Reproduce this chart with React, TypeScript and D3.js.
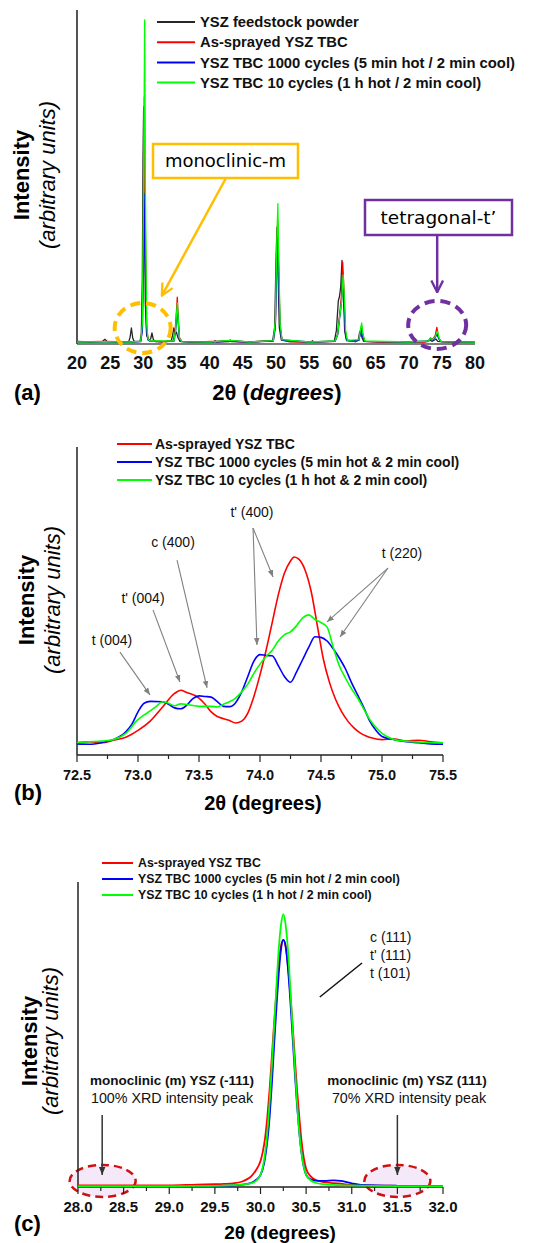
import React from "react";
import * as d3 from "d3";

type Pt = [number, number];

const SANS = "'Liberation Sans', Arial, Helvetica, sans-serif";
const HAND = "'DejaVu Sans', sans-serif";

const RED = "#ff0000";
const BLUE = "#0000ff";
const GREEN = "#00ff00";
const BLACK = "#262626";
const ORANGE = "#ffbf00";
const PURPLE = "#7030a0";
const GREY = "#808080";

// ---------- (a) survey scan, 20–80° ----------
const scanTicks = [20, 25, 30, 35, 40, 45, 50, 55, 60, 65, 70, 75, 80];
const scanLegend = [
  "YSZ feedstock powder",
  "As-sprayed YSZ TBC",
  "YSZ TBC 1000 cycles (5 min hot / 2 min cool)",
  "YSZ TBC 10 cycles (1 h hot / 2 min cool)",
];
const feedstockScan: Pt[] = [
  [20, 0.8], [22, 0.6], [23.8, 0.7], [24.2, 1.4], [24.6, 0.7], [26, 0.6], [27.8, 0.7], [28.0, 2.0],
  [28.2, 4.8], [28.4, 1.8], [28.6, 0.8], [29.5, 0.8], [29.7, 3], [29.85, 20], [29.95, 55], [30.05, 71],
  [30.15, 48], [30.3, 12], [30.5, 2.5], [30.8, 1.2], [31.1, 1.5], [31.3, 3.3], [31.5, 1.4], [31.8, 0.7],
  [33, 0.6], [34.2, 0.9], [34.4, 2.5], [34.6, 4.8], [34.8, 3.0], [35.0, 3.5], [35.2, 2], [35.5, 0.8],
  [37, 0.6], [40.6, 0.6], [40.8, 1], [41, 0.6], [42.9, 0.7], [43.1, 1.2], [43.3, 0.7], [46, 0.6],
  [49.5, 1], [49.8, 5], [50.0, 25], [50.15, 35], [50.3, 22], [50.5, 5], [50.8, 1.2], [52, 0.7],
  [55.3, 0.6], [55.5, 1], [55.7, 0.6], [58.8, 0.9], [59.1, 4], [59.4, 13], [59.55, 14], [59.75, 17],
  [59.95, 25], [60.15, 16], [60.35, 4], [60.6, 1.2], [62, 0.7], [62.4, 1.2], [62.6, 3.5], [62.75, 4],
  [62.95, 2], [63.2, 0.8], [66, 0.6], [70, 0.6], [72.8, 0.7], [73.2, 1.2], [73.5, 0.8], [73.9, 1.2],
  [74.1, 1.5], [74.4, 0.8], [76, 0.6], [80, 0.6],
];
const asSprayedScan: Pt[] = [
  [20, 0.6], [24, 0.8], [28, 0.6], [29.6, 0.8], [29.8, 4], [30.0, 30], [30.15, 74], [30.3, 35],
  [30.5, 5], [30.7, 1.5], [31, 0.9], [33, 0.7], [34.5, 1], [34.8, 4], [35.0, 10], [35.12, 14],
  [35.25, 8], [35.45, 1.8], [35.8, 0.8], [38, 0.6], [43, 0.9], [46, 0.6], [49.6, 1], [49.9, 6],
  [50.1, 25], [50.25, 37], [50.4, 24], [50.6, 6], [50.9, 1.3], [52, 0.7], [55, 0.6], [58.9, 0.8],
  [59.3, 3], [59.6, 9], [59.85, 14], [60.05, 24.5], [60.25, 16], [60.45, 4], [60.7, 1], [62, 0.7],
  [62.5, 1.2], [62.75, 4], [62.9, 5.5], [63.1, 2.5], [63.4, 0.8], [66, 0.6], [72.5, 0.6], [73, 1],
  [73.3, 1.8], [73.6, 1.4], [74.0, 2.5], [74.25, 5], [74.5, 2], [74.9, 0.7], [77, 0.6], [80, 0.6],
];
const cycles1000Scan: Pt[] = [
  [20, 0.6], [24, 0.7], [28, 0.6], [29.6, 0.7], [29.85, 4], [30.05, 25], [30.18, 45], [30.32, 22],
  [30.5, 4], [30.7, 1.2], [31, 0.8], [34.6, 0.8], [34.85, 3.5], [35.02, 8], [35.12, 11], [35.25, 6.5],
  [35.45, 1.5], [35.8, 0.7], [40, 0.6], [43.1, 0.9], [46, 0.6], [49.6, 0.9], [49.9, 5], [50.1, 22],
  [50.25, 33], [50.4, 20], [50.6, 5], [50.9, 1.2], [55, 0.6], [58.9, 0.8], [59.3, 2.8], [59.6, 8],
  [59.85, 12], [60.08, 19], [60.25, 13], [60.45, 3.5], [60.7, 1], [62.5, 1.1], [62.75, 3.5], [62.9, 5],
  [63.1, 2.2], [63.4, 0.8], [70, 0.6], [73, 0.9], [73.3, 1.5], [73.6, 1.2], [74.0, 2], [74.3, 3],
  [74.55, 1.5], [74.9, 0.7], [80, 0.6],
];
const cycles10Scan: Pt[] = [
  [20, 0.6], [24, 0.7], [28, 0.6], [29.6, 0.8], [29.85, 6], [30.05, 50], [30.2, 97], [30.32, 45],
  [30.5, 6], [30.7, 1.5], [31, 0.9], [34.6, 0.9], [34.85, 4], [35.02, 9.5], [35.14, 12.3], [35.27, 7],
  [35.45, 1.7], [35.8, 0.7], [40, 0.6], [43.1, 1.1], [46, 0.6], [49.6, 1], [49.9, 7], [50.12, 30],
  [50.28, 42], [50.42, 25], [50.62, 6], [50.9, 1.3], [55, 0.6], [58.9, 0.9], [59.3, 3], [59.65, 9],
  [59.9, 13], [60.12, 20.7], [60.3, 14], [60.5, 4], [60.75, 1.1], [62.5, 1.3], [62.75, 4.5], [62.92, 6.3],
  [63.1, 3], [63.4, 0.9], [70, 0.6], [73, 0.9], [73.3, 1.6], [73.6, 1.3], [74.0, 2.2], [74.35, 3.8],
  [74.6, 1.6], [74.9, 0.7], [80, 0.6],
];

// ---------- (b) 72.5–75.5° window ----------
const windowTicks = [72.5, 73.0, 73.5, 74.0, 74.5, 75.0, 75.5];
const windowLegend = [
  "As-sprayed YSZ TBC",
  "YSZ TBC 1000 cycles (5 min hot & 2 min cool)",
  "YSZ TBC 10 cycles (1 h hot & 2 min cool)",
];
const asSprayedWindow: Pt[] = [
  [72.5, 4], [72.6, 4.3], [72.7, 4], [72.8, 4.8], [72.9, 5.8], [73.0, 8], [73.1, 11], [73.2, 15.5],
  [73.3, 20], [73.35, 21], [73.4, 20.3], [73.5, 18.5], [73.55, 16.5], [73.6, 14], [73.65, 12.5],
  [73.7, 11.8], [73.75, 11.2], [73.8, 10.4], [73.85, 11], [73.9, 13.6], [73.95, 19], [74.0, 26],
  [74.05, 34], [74.1, 43], [74.15, 52], [74.2, 59], [74.25, 63], [74.28, 64.3], [74.32, 63.5],
  [74.37, 60], [74.42, 53], [74.47, 42], [74.52, 31], [74.57, 23.5], [74.62, 18], [74.67, 14],
  [74.72, 11], [74.77, 8.8], [74.82, 7.2], [74.87, 6.2], [74.92, 5.5], [75.0, 5], [75.1, 5.2],
  [75.2, 4.6], [75.3, 4.8], [75.4, 4.3], [75.5, 4],
];
const cycles1000Window: Pt[] = [
  [72.5, 3.6], [72.6, 3.5], [72.7, 4], [72.8, 5], [72.9, 7.5], [72.95, 10], [73.0, 14], [73.05, 16.8],
  [73.1, 17.4], [73.2, 17.3], [73.25, 16.5], [73.3, 15.3], [73.35, 15], [73.4, 16.2], [73.45, 18.3],
  [73.5, 19.2], [73.55, 19], [73.6, 18.8], [73.65, 17.3], [73.7, 15.8], [73.75, 15.7], [73.8, 17],
  [73.85, 20.5], [73.9, 25.5], [73.95, 30.5], [74.0, 32.6], [74.05, 32.3], [74.1, 32.2], [74.15, 29],
  [74.2, 25.5], [74.25, 23.6], [74.3, 27], [74.35, 31], [74.4, 35], [74.45, 38.4], [74.5, 38.2],
  [74.55, 37], [74.6, 34.5], [74.65, 31.5], [74.7, 28], [74.75, 23.5], [74.8, 19.5], [74.85, 15.5],
  [74.9, 11], [74.95, 8], [75.0, 6], [75.1, 5], [75.2, 4.3], [75.3, 4], [75.4, 3.6], [75.5, 3.5],
];
const cycles10Window: Pt[] = [
  [72.5, 4], [72.6, 4.3], [72.7, 4.5], [72.8, 5], [72.9, 7], [73.0, 11.5], [73.05, 13], [73.1, 14.3],
  [73.15, 15.8], [73.2, 17.3], [73.25, 16.8], [73.3, 16], [73.35, 16.6], [73.4, 16.4], [73.5, 15.8],
  [73.6, 15.8], [73.65, 15.6], [73.7, 16.5], [73.75, 17.3], [73.8, 18.5], [73.85, 20.5], [73.9, 23],
  [73.95, 26.5], [74.0, 29.5], [74.05, 32], [74.1, 34], [74.15, 37], [74.2, 39], [74.25, 40], [74.3, 42],
  [74.35, 44.5], [74.4, 45.5], [74.45, 44], [74.5, 43], [74.55, 41.5], [74.6, 35], [74.65, 29],
  [74.7, 25], [74.75, 21.5], [74.8, 18.5], [74.85, 15], [74.9, 11.5], [74.95, 9], [75.0, 7], [75.1, 5],
  [75.2, 4.5], [75.3, 4.2], [75.4, 4], [75.5, 4],
];

// ---------- (c) 28–32° window ----------
const mainPeakTicks = [28.0, 28.5, 29.0, 29.5, 30.0, 30.5, 31.0, 31.5, 32.0];
const mainPeakLegend = [
  "As-sprayed YSZ TBC",
  "YSZ TBC 1000 cycles (5 min hot / 2 min cool)",
  "YSZ TBC 10 cycles (1 h hot / 2 min cool)",
];
const asSprayedMain: Pt[] = [
  [28.0, 0.5], [29.0, 0.5], [29.3, 0.8], [29.5, 0.9], [29.6, 1.0], [29.7, 1.2], [29.8, 1.8], [29.85, 2.5],
  [29.9, 3.6], [29.95, 5.5], [30.0, 8.5], [30.025, 11.5], [30.05, 16], [30.075, 23], [30.1, 32],
  [30.125, 43], [30.15, 54], [30.175, 64], [30.2, 73], [30.225, 79], [30.25, 81], [30.275, 79],
  [30.3, 73], [30.325, 64], [30.35, 54], [30.375, 43], [30.4, 32], [30.425, 23], [30.45, 15],
  [30.475, 9.5], [30.5, 6], [30.55, 3.5], [30.6, 2.4], [30.7, 1.6], [30.8, 1.3], [30.9, 1.0],
  [31.0, 0.7], [31.5, 0.4], [32.0, 0.3],
];
const cycles1000Main: Pt[] = [
  [28.0, 0.3], [29.0, 0.3], [29.5, 0.3], [29.7, 0.5], [29.8, 0.8], [29.9, 1.4], [29.95, 2.3], [30.0, 4],
  [30.025, 6], [30.05, 9.5], [30.075, 15], [30.1, 23], [30.125, 34], [30.15, 47], [30.175, 59],
  [30.2, 70], [30.225, 78], [30.25, 81], [30.275, 79], [30.3, 72], [30.325, 62], [30.35, 50],
  [30.375, 38], [30.4, 27], [30.425, 18], [30.45, 11], [30.475, 6.5], [30.5, 4], [30.55, 2.5],
  [30.6, 2.1], [30.7, 2.0], [30.8, 2.2], [30.9, 1.9], [31.0, 1.2], [31.1, 0.7], [31.5, 0.4], [32.0, 0.3],
];
const cycles10Main: Pt[] = [
  [28.0, 0.3], [28.5, 0.3], [29.0, 0.3], [29.5, 0.4], [29.7, 0.6], [29.8, 0.8], [29.9, 1.3], [29.95, 2.0],
  [30.0, 4.0], [30.025, 6.5], [30.05, 11], [30.075, 18], [30.1, 28], [30.125, 40], [30.15, 53],
  [30.175, 66], [30.2, 78], [30.225, 86], [30.25, 89.5], [30.275, 86], [30.3, 78], [30.325, 66],
  [30.35, 53], [30.375, 40], [30.4, 28], [30.425, 18], [30.45, 11], [30.475, 6.5], [30.5, 4],
  [30.55, 2.2], [30.6, 1.4], [30.7, 0.9], [30.8, 0.7], [31.0, 0.5], [31.5, 0.3], [32.0, 0.3],
];

type Scale = d3.ScaleLinear<number, number>;

function Trace({ data, x, y, color, width = 1.6, smooth = false }: {
  data: Pt[]; x: Scale; y: Scale; color: string; width?: number; smooth?: boolean;
}) {
  const gen = d3
    .line<Pt>()
    .x((d) => x(d[0]))
    .y((d) => y(d[1]))
    .curve(smooth ? d3.curveMonotoneX : d3.curveLinear);
  return <path d={gen(data) ?? ""} fill="none" stroke={color} strokeWidth={width} strokeLinejoin="round" />;
}

function YTitle({ x1, x2, cy }: { x1: number; x2: number; cy: number }) {
  return (
    <g fontFamily={SANS} fontSize={22} fill="#000" textAnchor="middle">
      <text transform={`translate(${x1},${cy}) rotate(-90)`} fontWeight="bold">Intensity</text>
      <text transform={`translate(${x2},${cy}) rotate(-90)`} fontStyle="italic">(arbitrary units)</text>
    </g>
  );
}

function Legend({ items, colors, x0, x1, tx, y0, dy, size }: {
  items: string[]; colors: string[]; x0: number; x1: number; tx: number; y0: number; dy: number; size: number;
}) {
  return (
    <g fontFamily={SANS} fontWeight="bold" fontSize={size} fill="#111">
      {items.map((t, i) => (
        <g key={t}>
          <line x1={x0} x2={x1} y1={y0 + i * dy} y2={y0 + i * dy} stroke={colors[i]} strokeWidth={2} />
          <text x={tx} y={y0 + i * dy} dy="0.35em">{t}</text>
        </g>
      ))}
    </g>
  );
}

function BottomAxis({ x, y0, ticks, minor, size, fmt }: {
  x: Scale; y0: number; ticks: number[]; minor: number[]; size: number; fmt: (v: number) => string;
}) {
  const [r0, r1] = x.range();
  return (
    <g>
      <line x1={r0} x2={r1} y1={y0} y2={y0} stroke="#222" strokeWidth={1.5} />
      {minor.map((v) => (
        <line key={`m${v}`} x1={x(v)} x2={x(v)} y1={y0} y2={y0 + 4} stroke="#222" strokeWidth={1.2} />
      ))}
      {ticks.map((v) => (
        <line key={`t${v}`} x1={x(v)} x2={x(v)} y1={y0} y2={y0 + 7} stroke="#222" strokeWidth={1.2} />
      ))}
      <g fontFamily={SANS} fontWeight="bold" fontSize={size} textAnchor="middle" fill="#111">
        {ticks.map((v) => (
          <text key={`l${v}`} x={x(v)} y={y0 + 20} dy="0.35em">{fmt(v)}</text>
        ))}
      </g>
    </g>
  );
}

export default function App() {
  // (a)
  const xA = d3.scaleLinear().domain([20, 80]).range([77, 475]);
  const yA = d3.scaleLinear().domain([0, 100]).range([344, 10]);
  // (b)
  const xB = d3.scaleLinear().domain([72.5, 75.5]).range([77, 443]);
  const yB = d3.scaleLinear().domain([0, 100]).range([755, 447]);
  // (c)
  const xC = d3.scaleLinear().domain([28, 32]).range([78, 443]);
  const yC = d3.scaleLinear().domain([0, 100]).range([1187, 882]);

  const minorB = d3.range(72.75, 75.5, 0.5);
  const minorC = d3.range(28.25, 32, 0.5);
  const fmt1 = d3.format(".1f");

  const annB = { fontFamily: SANS, fontSize: 14, fill: "#111", textAnchor: "middle" as const };

  return (
    <svg width={543} height={1243} style={{ position: "absolute", left: 0, top: 0, background: "#fff" }}>
      <defs>
        <marker id="hGrey" viewBox="0 0 10 10" refX="10" refY="5" markerWidth="7" markerHeight="7" orient="auto" markerUnits="userSpaceOnUse">
          <path d="M0,1 L10,5 L0,9 z" fill={GREY} />
        </marker>
        <marker id="hDark" viewBox="0 0 10 10" refX="10" refY="5" markerWidth="8" markerHeight="8" orient="auto" markerUnits="userSpaceOnUse">
          <path d="M0,1 L10,5 L0,9 z" fill="#333" />
        </marker>
        <marker id="hOrange" viewBox="0 0 12 12" refX="11" refY="6" markerWidth="14" markerHeight="14" orient="auto" markerUnits="userSpaceOnUse">
          <path d="M1,1 L11,6 L1,11" fill="none" stroke={ORANGE} strokeWidth={2} />
        </marker>
        <marker id="hPurple" viewBox="0 0 12 12" refX="11" refY="6" markerWidth="14" markerHeight="14" orient="auto" markerUnits="userSpaceOnUse">
          <path d="M1,1 L11,6 L1,11" fill="none" stroke={PURPLE} strokeWidth={2} />
        </marker>
      </defs>

      {/* ===== (a) ===== */}
      <line x1={77} x2={77} y1={yA(100)} y2={yA(0)} stroke="#555" strokeWidth={2} />
      <line x1={77} x2={475} y1={yA(0)} y2={yA(0)} stroke="#555" strokeWidth={1.5} />
      <Trace data={feedstockScan} x={xA} y={yA} color={BLACK} width={1.3} />
      <Trace data={asSprayedScan} x={xA} y={yA} color={RED} width={1.3} />
      <Trace data={cycles1000Scan} x={xA} y={yA} color={BLUE} width={1.3} />
      <Trace data={cycles10Scan} x={xA} y={yA} color={GREEN} width={1.3} />
      <g fontFamily={SANS} fontWeight="bold" fontSize={18} textAnchor="middle" fill="#111">
        {scanTicks.map((v) => (
          <text key={v} x={xA(v)} y={363} dy="0.35em">{v}</text>
        ))}
      </g>
      <text x={277} y={400} fontFamily={SANS} fontWeight="bold" fontSize={22} textAnchor="middle">
        2θ (<tspan fontStyle="italic">degrees</tspan>)
      </text>
      <text x={14} y={400} fontFamily={SANS} fontWeight="bold" fontSize={22}>(a)</text>
      <YTitle x1={29} x2={55} cy={175} />
      <Legend items={scanLegend} colors={[BLACK, RED, BLUE, GREEN]} x0={157} x1={195} tx={200} y0={22} dy={20.2} size={14.8} />

      {/* monoclinic call-out */}
      <rect x={153} y={144} width={145} height={34} fill="#fff" stroke={ORANGE} strokeWidth={2.5} />
      <text x={225.5} y={161} dy="0.35em" textAnchor="middle" fontFamily={HAND} fontSize={18}>monoclinic-m</text>
      <line x1={226} y1={178} x2={xA(32.8)} y2={yA(14.5)} stroke={ORANGE} strokeWidth={2.5} markerEnd="url(#hOrange)" />
      <ellipse cx={xA(29.9)} cy={yA(4.8)} rx={28} ry={25} fill="none" stroke={ORANGE} strokeWidth={4} strokeDasharray="10 6" />

      {/* tetragonal call-out */}
      <rect x={365} y={200} width={147} height={35} fill="#fff" stroke={PURPLE} strokeWidth={2.5} />
      <text x={438.5} y={217.5} dy="0.35em" textAnchor="middle" fontFamily={HAND} fontSize={18.5}>tetragonal-t’</text>
      <line x1={xA(74.3)} y1={235} x2={xA(74.3)} y2={yA(15.5)} stroke={PURPLE} strokeWidth={2.5} markerEnd="url(#hPurple)" />
      <ellipse cx={xA(74.3)} cy={yA(5.7)} rx={29} ry={24} fill="none" stroke={PURPLE} strokeWidth={4} strokeDasharray="10 6" />

      {/* ===== (b) ===== */}
      <line x1={77} x2={77} y1={yB(100)} y2={yB(0)} stroke="#222" strokeWidth={1.5} />
      <BottomAxis x={xB} y0={yB(0)} ticks={windowTicks} minor={minorB} size={14.5} fmt={fmt1} />
      <Trace data={asSprayedWindow} x={xB} y={yB} color={RED} width={1.6} smooth />
      <Trace data={cycles1000Window} x={xB} y={yB} color={BLUE} width={1.6} smooth />
      <Trace data={cycles10Window} x={xB} y={yB} color={GREEN} width={1.6} smooth />
      <text x={263} y={810} fontFamily={SANS} fontWeight="bold" fontSize={20} textAnchor="middle">2θ (degrees)</text>
      <text x={14} y={800} fontFamily={SANS} fontWeight="bold" fontSize={22}>(b)</text>
      <YTitle x1={34} x2={60} cy={600} />
      <Legend items={windowLegend} colors={[RED, BLUE, GREEN]} x0={117} x1={152} tx={155} y0={444} dy={18} size={14} />

      <g stroke={GREY} strokeWidth={1.1} markerEnd="url(#hGrey)">
        <line x1={xB(72.852)} y1={yB(33.4)} x2={xB(73.098)} y2={yB(19.5)} />
        <line x1={xB(73.123)} y1={yB(47.1)} x2={xB(73.344)} y2={yB(23.7)} />
        <line x1={xB(73.32)} y1={yB(63.3)} x2={xB(73.566)} y2={yB(21.8)} />
        <line x1={xB(73.943)} y1={yB(73.7)} x2={xB(73.975)} y2={yB(35.7)} />
        <line x1={xB(73.943)} y1={yB(73.7)} x2={xB(74.107)} y2={yB(57.8)} />
        <line x1={xB(75.049)} y1={yB(60.7)} x2={xB(74.549)} y2={yB(43.2)} />
        <line x1={xB(75.049)} y1={yB(60.7)} x2={xB(74.656)} y2={yB(38.3)} />
      </g>
      <g {...annB}>
        <text x={xB(72.787)} y={yB(37.3)} dy="0.35em">t (004)</text>
        <text x={xB(73.041)} y={yB(51)} dy="0.35em">t' (004)</text>
        <text x={xB(73.287)} y={yB(69.2)} dy="0.35em">c (400)</text>
        <text x={xB(73.934)} y={yB(78.9)} dy="0.35em">t' (400)</text>
        <text x={xB(75.164)} y={yB(65.6)} dy="0.35em">t (220)</text>
      </g>

      {/* ===== (c) ===== */}
      <ellipse cx={xC(28.27)} cy={yC(2)} rx={33} ry={16} fill="rgba(225,190,235,0.35)" stroke="#cc1111" strokeWidth={2.5} strokeDasharray="8 5" />
      <ellipse cx={xC(31.5)} cy={yC(2)} rx={33} ry={16} fill="rgba(225,190,235,0.35)" stroke="#cc1111" strokeWidth={2.5} strokeDasharray="8 5" />
      <line x1={78} x2={78} y1={yC(100)} y2={yC(0)} stroke="#222" strokeWidth={1.5} />
      <BottomAxis x={xC} y0={yC(0)} ticks={mainPeakTicks} minor={minorC} size={15} fmt={fmt1} />
      <Trace data={asSprayedMain} x={xC} y={yC} color={RED} width={1.8} smooth />
      <Trace data={cycles1000Main} x={xC} y={yC} color={BLUE} width={1.8} smooth />
      <Trace data={cycles10Main} x={xC} y={yC} color={GREEN} width={1.8} smooth />
      <text x={280} y={1239} fontFamily={SANS} fontWeight="bold" fontSize={19} textAnchor="middle">2θ (degrees)</text>
      <text x={14} y={1231} fontFamily={SANS} fontWeight="bold" fontSize={22}>(c)</text>
      <YTitle x1={37} x2={58} cy={1041} />
      <Legend items={mainPeakLegend} colors={[RED, BLUE, GREEN]} x0={102} x1={133} tx={138} y0={863} dy={16} size={12.3} />

      <g fontFamily={SANS} fontSize={14} fill="#111">
        <text x={370} y={937} dy="0.35em">c (111)</text>
        <text x={370} y={955} dy="0.35em">t' (111)</text>
        <text x={370} y={973} dy="0.35em">t (101)</text>
      </g>
      <line x1={362} y1={963} x2={xC(30.65)} y2={yC(62.3)} stroke="#111" strokeWidth={1.5} />

      <g fontFamily={SANS} fill="#111" textAnchor="middle">
        <text x={172} y={1080} dy="0.35em" fontWeight="bold" fontSize={13.5}>monoclinic (m) YSZ (-111)</text>
        <text x={172} y={1098} dy="0.35em" fontSize={14.3}>100% XRD intensity peak</text>
        <text x={407} y={1080} dy="0.35em" fontWeight="bold" fontSize={13.5}>monoclinic (m) YSZ (111)</text>
        <text x={409} y={1098} dy="0.35em" fontSize={14.3}>70% XRD intensity peak</text>
      </g>
      <g stroke="#333" strokeWidth={1.5} markerEnd="url(#hDark)">
        <line x1={xC(28.265)} y1={1115} x2={xC(28.265)} y2={1175} />
        <line x1={xC(31.5)} y1={1115} x2={xC(31.5)} y2={1175} />
      </g>
    </svg>
  );
}
